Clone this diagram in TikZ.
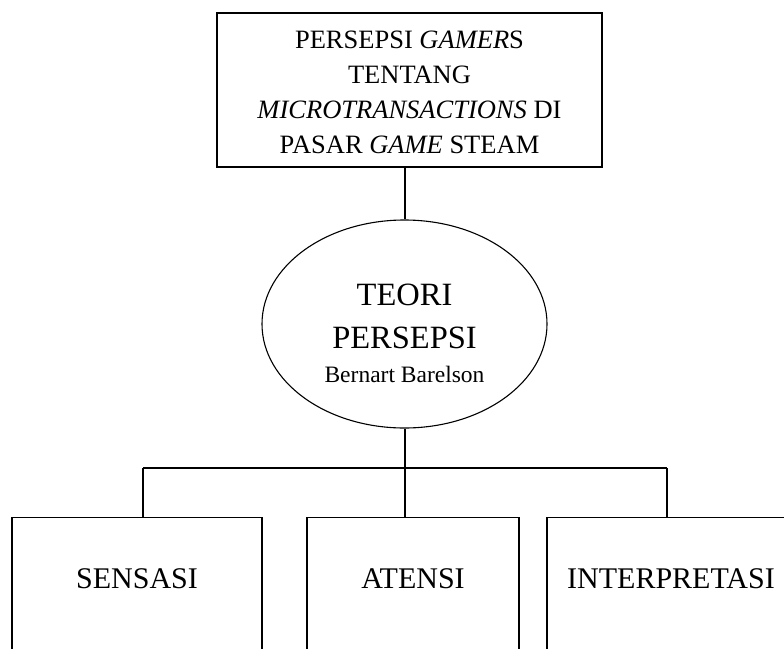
\documentclass[tikz,border=0pt]{standalone}
\usepackage{fontspec}
\setmainfont{Liberation Serif}
\usetikzlibrary{shapes.geometric, positioning}

\begin{document}
\begin{tikzpicture}[x=1pt, y=-1pt]
    \tikzset{
        box/.style={
            rectangle,
            draw=black,
            line width=1.3pt,
            inner sep=0pt,
            align=center
        },
        oval/.style={
            ellipse,
            draw=black,
            line width=1.1pt,
            inner sep=0pt,
            align=center,
            minimum width=285pt,
            minimum height=208pt
        },
        link/.style={
            draw=black,
            line width=1.1pt
        },
        aspect/.style={
            box,
            anchor=north,
            minimum height=170pt,
            text height=20pt,
            text depth=48pt,
            font=\fontsize{30}{36}\selectfont
        }
    }

    \useasboundingbox (0,0) rectangle (784,648);
    \clip (0,0) rectangle (784,648);

    \node[box, minimum width=385pt, minimum height=154pt,
          text height=126pt, text depth=0pt,
          font=\fontsize{26.5}{35}\selectfont] (judul) at (409.5,90)
        {PERSEPSI \textit{GAMER}S\\TENTANG\\\textit{MICROTRANSACTIONS} DI\\PASAR \textit{GAME} STEAM};

    \node[oval, text height=116pt, text depth=0pt,
          font=\fontsize{32.5}{43}\selectfont] (teori) at (404.5,324)
        {TEORI\\PERSEPSI\\[-9pt]{\fontsize{23.5}{28}\selectfont Bernart Barelson}};

    \node[aspect, minimum width=250pt] (sensasi) at (137,517) {SENSASI};
    \node[aspect, minimum width=212pt] (atensi) at (413,517) {ATENSI};
    \node[aspect, minimum width=248pt] (interpretasi) at (671,517) {INTERPRETASI};

    \coordinate (cabang) at (405,468);
    \coordinate (kiri) at (143,468);
    \coordinate (kanan) at (667,468);

    \draw[link] (judul.south -| cabang) -- (teori.north -| cabang);
    \draw[link] (teori.south -| cabang) -- (atensi.north -| cabang);
    \draw[link] (kiri) -- (kanan);
    \draw[link] (kiri) -- (sensasi.north -| kiri);
    \draw[link] (kanan) -- (interpretasi.north -| kanan);

\end{tikzpicture}
\end{document}
